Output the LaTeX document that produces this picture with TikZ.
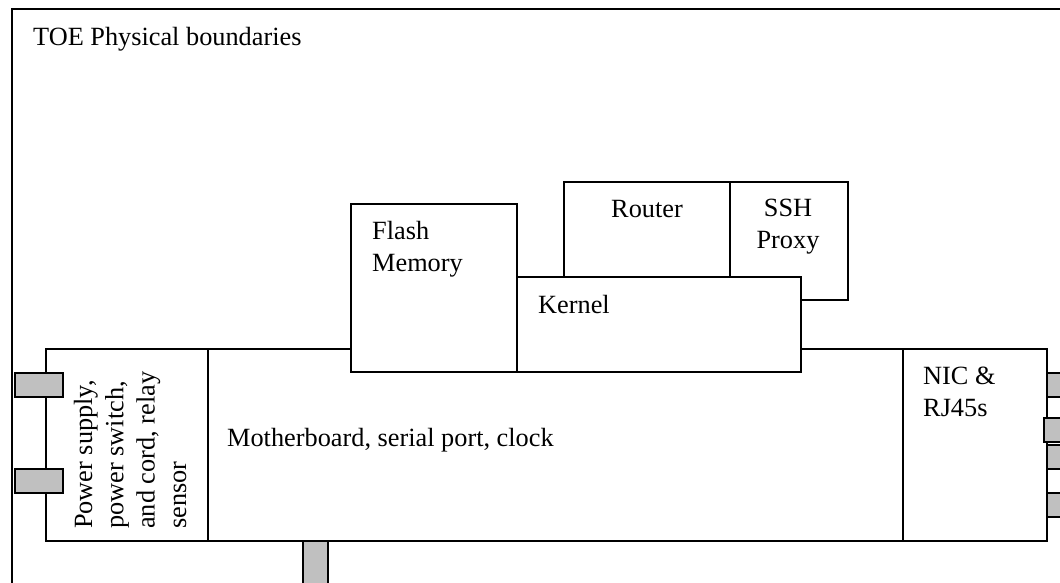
\documentclass[tikz,border=0pt]{standalone}
\usepackage{fontspec}
\setmainfont{Liberation Serif}
\definecolor{portgray}{HTML}{C0C0C0}
\begin{document}
\begin{tikzpicture}[x=1pt,y=-1pt,
  box/.style={draw, fill=white, line width=1.5pt, rectangle, inner sep=0pt, outer sep=0pt, anchor=north west},
  port/.style={box, fill=portgray},
  lbl/.style={inner sep=0pt, font=\fontsize{26.3}{31.3}\selectfont, align=left, anchor=base west},
]
\useasboundingbox (0,0) rectangle (1060,582);
\clip (0,0) rectangle (1060,582);

% physical boundary of the TOE
\node[box, minimum width=1080pt, minimum height=600pt] (toe) at (12,9) {};

% board level
\node[box, minimum width=162pt, minimum height=192pt] (power) at (46,349) {};
\node[box, minimum width=695pt, minimum height=192pt] (mobo) at (208,349) {};
\node[box, minimum width=144pt, minimum height=192pt] (nic) at (903,349) {};

% power connectors
\node[port, minimum width=48pt, minimum height=24pt] (pwr1) at (15,373) {};
\node[port, minimum width=48pt, minimum height=24pt] (pwr2) at (15,469) {};

% network connectors
\node[port, minimum width=48pt, minimum height=24pt] (rj1) at (1047,373) {};
\node[port, minimum width=48pt, minimum height=24pt] (rj2) at (1044,418) {};
\node[port, minimum width=48pt, minimum height=24pt] (rj3) at (1047,445) {};
\node[port, minimum width=48pt, minimum height=24pt] (rj4) at (1047,493) {};

% serial connector
\node[port, minimum width=25pt, minimum height=48pt] (serial) at (303,541) {};

% software level
\node[box, minimum width=118pt, minimum height=118pt] (ssh) at (730,182) {};
\node[box, minimum width=166pt, minimum height=95pt] (router) at (564,182) {};
\node[box, minimum width=166pt, minimum height=168pt] (flash) at (351,204) {};
\node[box, minimum width=284pt, minimum height=95pt] (kernel) at (517,277) {};

% labels (multi-line labels are placed by the baseline of their last line)
\node[lbl] (toeL) at (33,45) {TOE Physical boundaries};
\node[lbl] (flashL) at (372,271) {Flash\\Memory};
\node[lbl] (kernelL) at (538,313) {Kernel};
\node[lbl, anchor=base] (routerL) at (647,217) {Router};
\node[lbl, anchor=base, align=center] (sshL) at (788,248) {SSH\\Proxy};
\node[lbl] (moboL) at (227,446) {Motherboard, serial port, clock};
\node[lbl] (nicL) at (923,416) {NIC \&\\RJ45s};
\node[lbl, rotate=90] (powerL) at (186,529) {Power supply,\\power switch,\\and cord, relay\\sensor};
\end{tikzpicture}
\end{document}
